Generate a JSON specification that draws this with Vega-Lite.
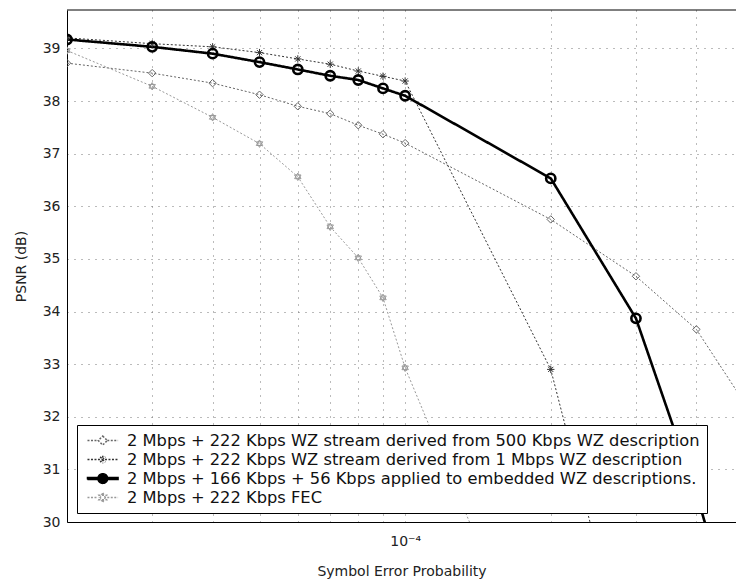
{
  "$schema": "https://vega.github.io/schema/vega-lite/v6.json",
  "width": 669,
  "height": 512,
  "autosize": {"type": "none"},
  "padding": {"left": 67, "top": 10, "right": 0, "bottom": 61},
  "background": "white",
  "config": {
    "view": {"stroke": null},
    "font": "DejaVu Sans",
    "axis": {"domainColor": "#000", "domainWidth": 1, "gridColor": "#777", "gridDash": [1, 6], "gridWidth": 1, "ticks": false, "tickSize": 0, "labelFont": "DejaVu Sans", "labelFontSize": 14, "labelColor": "#222", "titleFont": "DejaVu Sans", "titleFontSize": 14, "titleFontWeight": "normal", "titleColor": "#222"},
    "legend": {"labelFont": "DejaVu Sans", "labelFontSize": 16.3, "labelColor": "#111", "labelLimit": 1000, "labelOffset": 26, "padding": 7, "rowPadding": 2, "strokeColor": "#000", "fillColor": "#fff", "symbolSize": 225, "cornerRadius": 0}
  },
  "datasets": {
    "d": [
      {"series": "2 Mbps + 222 Kbps WZ stream derived from 500 Kbps WZ description", "p": 0.00002, "psnr": 38.72},
      {"series": "2 Mbps + 222 Kbps WZ stream derived from 500 Kbps WZ description", "p": 0.00003, "psnr": 38.53},
      {"series": "2 Mbps + 222 Kbps WZ stream derived from 500 Kbps WZ description", "p": 0.00004, "psnr": 38.34},
      {"series": "2 Mbps + 222 Kbps WZ stream derived from 500 Kbps WZ description", "p": 0.00005, "psnr": 38.12},
      {"series": "2 Mbps + 222 Kbps WZ stream derived from 500 Kbps WZ description", "p": 0.00006, "psnr": 37.9},
      {"series": "2 Mbps + 222 Kbps WZ stream derived from 500 Kbps WZ description", "p": 0.00007, "psnr": 37.76},
      {"series": "2 Mbps + 222 Kbps WZ stream derived from 500 Kbps WZ description", "p": 0.00008, "psnr": 37.54},
      {"series": "2 Mbps + 222 Kbps WZ stream derived from 500 Kbps WZ description", "p": 0.00009, "psnr": 37.37},
      {"series": "2 Mbps + 222 Kbps WZ stream derived from 500 Kbps WZ description", "p": 0.0001, "psnr": 37.2},
      {"series": "2 Mbps + 222 Kbps WZ stream derived from 500 Kbps WZ description", "p": 0.0002, "psnr": 35.75},
      {"series": "2 Mbps + 222 Kbps WZ stream derived from 500 Kbps WZ description", "p": 0.0003, "psnr": 34.67},
      {"series": "2 Mbps + 222 Kbps WZ stream derived from 500 Kbps WZ description", "p": 0.0004, "psnr": 33.66},
      {"series": "2 Mbps + 222 Kbps WZ stream derived from 500 Kbps WZ description", "p": 0.0005, "psnr": 32.3},
      {"series": "2 Mbps + 222 Kbps WZ stream derived from 1 Mbps WZ description", "p": 0.00002, "psnr": 39.2},
      {"series": "2 Mbps + 222 Kbps WZ stream derived from 1 Mbps WZ description", "p": 0.00003, "psnr": 39.09},
      {"series": "2 Mbps + 222 Kbps WZ stream derived from 1 Mbps WZ description", "p": 0.00004, "psnr": 39.03},
      {"series": "2 Mbps + 222 Kbps WZ stream derived from 1 Mbps WZ description", "p": 0.00005, "psnr": 38.92},
      {"series": "2 Mbps + 222 Kbps WZ stream derived from 1 Mbps WZ description", "p": 0.00006, "psnr": 38.8},
      {"series": "2 Mbps + 222 Kbps WZ stream derived from 1 Mbps WZ description", "p": 0.00007, "psnr": 38.7},
      {"series": "2 Mbps + 222 Kbps WZ stream derived from 1 Mbps WZ description", "p": 0.00008, "psnr": 38.57},
      {"series": "2 Mbps + 222 Kbps WZ stream derived from 1 Mbps WZ description", "p": 0.00009, "psnr": 38.47},
      {"series": "2 Mbps + 222 Kbps WZ stream derived from 1 Mbps WZ description", "p": 0.0001, "psnr": 38.38},
      {"series": "2 Mbps + 222 Kbps WZ stream derived from 1 Mbps WZ description", "p": 0.0002, "psnr": 32.9},
      {"series": "2 Mbps + 222 Kbps WZ stream derived from 1 Mbps WZ description", "p": 0.0003, "psnr": 26.6},
      {"series": "2 Mbps + 166 Kbps + 56 Kbps applied to embedded WZ descriptions.", "p": 0.00002, "psnr": 39.17},
      {"series": "2 Mbps + 166 Kbps + 56 Kbps applied to embedded WZ descriptions.", "p": 0.00003, "psnr": 39.03},
      {"series": "2 Mbps + 166 Kbps + 56 Kbps applied to embedded WZ descriptions.", "p": 0.00004, "psnr": 38.9},
      {"series": "2 Mbps + 166 Kbps + 56 Kbps applied to embedded WZ descriptions.", "p": 0.00005, "psnr": 38.74},
      {"series": "2 Mbps + 166 Kbps + 56 Kbps applied to embedded WZ descriptions.", "p": 0.00006, "psnr": 38.6},
      {"series": "2 Mbps + 166 Kbps + 56 Kbps applied to embedded WZ descriptions.", "p": 0.00007, "psnr": 38.48},
      {"series": "2 Mbps + 166 Kbps + 56 Kbps applied to embedded WZ descriptions.", "p": 0.00008, "psnr": 38.4},
      {"series": "2 Mbps + 166 Kbps + 56 Kbps applied to embedded WZ descriptions.", "p": 0.00009, "psnr": 38.24},
      {"series": "2 Mbps + 166 Kbps + 56 Kbps applied to embedded WZ descriptions.", "p": 0.0001, "psnr": 38.1},
      {"series": "2 Mbps + 166 Kbps + 56 Kbps applied to embedded WZ descriptions.", "p": 0.0002, "psnr": 36.53},
      {"series": "2 Mbps + 166 Kbps + 56 Kbps applied to embedded WZ descriptions.", "p": 0.0003, "psnr": 33.87},
      {"series": "2 Mbps + 166 Kbps + 56 Kbps applied to embedded WZ descriptions.", "p": 0.0004, "psnr": 30.54},
      {"series": "2 Mbps + 166 Kbps + 56 Kbps applied to embedded WZ descriptions.", "p": 0.0005, "psnr": 27.5},
      {"series": "2 Mbps + 222 Kbps FEC", "p": 0.00002, "psnr": 38.96},
      {"series": "2 Mbps + 222 Kbps FEC", "p": 0.00003, "psnr": 38.28},
      {"series": "2 Mbps + 222 Kbps FEC", "p": 0.00004, "psnr": 37.69},
      {"series": "2 Mbps + 222 Kbps FEC", "p": 0.00005, "psnr": 37.19},
      {"series": "2 Mbps + 222 Kbps FEC", "p": 0.00006, "psnr": 36.56},
      {"series": "2 Mbps + 222 Kbps FEC", "p": 0.00007, "psnr": 35.61},
      {"series": "2 Mbps + 222 Kbps FEC", "p": 0.00008, "psnr": 35.02},
      {"series": "2 Mbps + 222 Kbps FEC", "p": 0.00009, "psnr": 34.26},
      {"series": "2 Mbps + 222 Kbps FEC", "p": 0.0001, "psnr": 32.93},
      {"series": "2 Mbps + 222 Kbps FEC", "p": 0.0002, "psnr": 26.3}
    ]
  },
  "data": {"name": "d"},
  "layer": [
    {
      "mark": {"type": "line", "clip": true},
      "encoding": {
        "x": {"field": "p", "type": "quantitative", "title": "Symbol Error Probability",
          "scale": {"type": "log", "domain": [0.00002, 0.000483], "nice": false},
          "axis": {"values": [0.00003, 0.00004, 0.00005, 0.00006, 0.00007, 0.00008, 0.00009, 0.0001, 0.0002, 0.0003, 0.0004], "labelExpr": "datum.value == 0.0001 ? '10⁻⁴' : ''", "labelOverlap": false, "labelFlush": false, "grid": true, "labelPadding": 12, "titlePadding": 16}},
        "y": {"field": "psnr", "type": "quantitative", "title": "PSNR (dB)",
          "scale": {"domain": [30, 39.73], "nice": false, "zero": false},
          "axis": {"values": [30, 31, 32, 33, 34, 35, 36, 37, 38, 39], "grid": true, "labelPadding": 7, "titlePadding": 14}},
        "color": {"field": "series", "type": "nominal", "legend": null,
          "scale": {"domain": ["2 Mbps + 222 Kbps WZ stream derived from 500 Kbps WZ description", "2 Mbps + 222 Kbps WZ stream derived from 1 Mbps WZ description", "2 Mbps + 166 Kbps + 56 Kbps applied to embedded WZ descriptions.", "2 Mbps + 222 Kbps FEC"], "range": ["#666666", "#333333", "#000000", "#999999"]}},
        "strokeWidth": {"condition": {"test": "datum.series == '2 Mbps + 166 Kbps + 56 Kbps applied to embedded WZ descriptions.'", "value": 2.6}, "value": 1},
        "strokeDash": {"field": "series", "type": "nominal", "legend": null,
          "scale": {"domain": ["2 Mbps + 222 Kbps WZ stream derived from 500 Kbps WZ description", "2 Mbps + 222 Kbps WZ stream derived from 1 Mbps WZ description", "2 Mbps + 166 Kbps + 56 Kbps applied to embedded WZ descriptions.", "2 Mbps + 222 Kbps FEC"], "range": [[2, 2], [2, 2], [1, 0], [2, 2]]}}
      }
    },
    {
      "mark": {"type": "point", "clip": true, "filled": false, "opacity": 1},
      "encoding": {
        "x": {"field": "p", "type": "quantitative"},
        "y": {"field": "psnr", "type": "quantitative"},
        "color": {"field": "series", "type": "nominal", "legend": null,
          "scale": {"domain": ["2 Mbps + 222 Kbps WZ stream derived from 500 Kbps WZ description", "2 Mbps + 222 Kbps WZ stream derived from 1 Mbps WZ description", "2 Mbps + 166 Kbps + 56 Kbps applied to embedded WZ descriptions.", "2 Mbps + 222 Kbps FEC"], "range": ["#666666", "#333333", "#000000", "#999999"]}},
        "shape": {"field": "series", "type": "nominal", "legend": null,
          "scale": {"domain": ["2 Mbps + 222 Kbps WZ stream derived from 500 Kbps WZ description", "2 Mbps + 222 Kbps WZ stream derived from 1 Mbps WZ description", "2 Mbps + 166 Kbps + 56 Kbps applied to embedded WZ descriptions.", "2 Mbps + 222 Kbps FEC"], "range": ["diamond", "M-1,0H1M0,-1V1M-0.7,-0.7L0.7,0.7M-0.7,0.7L0.7,-0.7", "circle", "M0,-1L0.866,0.5L-0.866,0.5ZM0,1L0.866,-0.5L-0.866,-0.5Z"]}},
        "size": {"condition": {"test": "datum.series == '2 Mbps + 166 Kbps + 56 Kbps applied to embedded WZ descriptions.'", "value": 85}, "value": 55},
        "strokeWidth": {"condition": {"test": "datum.series == '2 Mbps + 166 Kbps + 56 Kbps applied to embedded WZ descriptions.'", "value": 2.6}, "value": 1}
      }
    },
    {
      "data": {"values": [{}]},
      "mark": {"type": "rule", "color": "#000", "strokeWidth": 1},
      "encoding": {"y": {"datum": 39.73}}
    },
    {
      "transform": [{"filter": "false"}],
      "mark": {"type": "point", "filled": false, "size": 225, "opacity": 1},
      "encoding": {
        "stroke": {"field": "series", "type": "nominal",
          "legend": {"orient": "none", "legendX": 10, "legendY": 415, "title": null},
          "scale": {"domain": ["2 Mbps + 222 Kbps WZ stream derived from 500 Kbps WZ description", "2 Mbps + 222 Kbps WZ stream derived from 1 Mbps WZ description", "2 Mbps + 166 Kbps + 56 Kbps applied to embedded WZ descriptions.", "2 Mbps + 222 Kbps FEC"], "range": ["#666666", "#333333", "#000000", "#999999"]}},
        "fill": {"field": "series", "type": "nominal",
          "legend": {"orient": "none", "legendX": 10, "legendY": 415, "title": null},
          "scale": {"domain": ["2 Mbps + 222 Kbps WZ stream derived from 500 Kbps WZ description", "2 Mbps + 222 Kbps WZ stream derived from 1 Mbps WZ description", "2 Mbps + 166 Kbps + 56 Kbps applied to embedded WZ descriptions.", "2 Mbps + 222 Kbps FEC"], "range": ["transparent", "transparent", "#000000", "transparent"]}},
        "shape": {"field": "series", "type": "nominal",
          "legend": {"orient": "none", "legendX": 10, "legendY": 415, "title": null},
          "scale": {"domain": ["2 Mbps + 222 Kbps WZ stream derived from 500 Kbps WZ description", "2 Mbps + 222 Kbps WZ stream derived from 1 Mbps WZ description", "2 Mbps + 166 Kbps + 56 Kbps applied to embedded WZ descriptions.", "2 Mbps + 222 Kbps FEC"], "range": [
            "M-0.67,0H0.77M1.97,0H3.41M1.37,-0.6L1.97,0L1.37,0.6L0.77,0Z",
            "M-0.67,0H3.41M1.37,-0.5V0.5M1.02,-0.35L1.72,0.35M1.02,0.35L1.72,-0.35",
            "M-0.67,-0.12H3.41V0.12H-0.67ZM0.72,0A0.65,0.65,0,1,1,2.02,0A0.65,0.65,0,1,1,0.72,0Z",
            "M-0.67,0H0.77M1.97,0H3.41M1.37,-0.6L1.89,0.3L0.85,0.3ZM1.37,0.6L1.89,-0.3L0.85,-0.3Z"]}},
        "strokeDash": {"field": "series", "type": "nominal",
          "legend": {"orient": "none", "legendX": 10, "legendY": 415, "title": null},
          "scale": {"domain": ["2 Mbps + 222 Kbps WZ stream derived from 500 Kbps WZ description", "2 Mbps + 222 Kbps WZ stream derived from 1 Mbps WZ description", "2 Mbps + 166 Kbps + 56 Kbps applied to embedded WZ descriptions.", "2 Mbps + 222 Kbps FEC"], "range": [[2, 1.5], [2, 1.5], [1, 0], [2, 1.5]]}}
      }
    }
  ],
  "resolve": {"scale": {"color": "independent", "stroke": "independent", "fill": "independent", "shape": "independent", "strokeWidth": "independent", "strokeDash": "independent", "size": "independent"}}
}
